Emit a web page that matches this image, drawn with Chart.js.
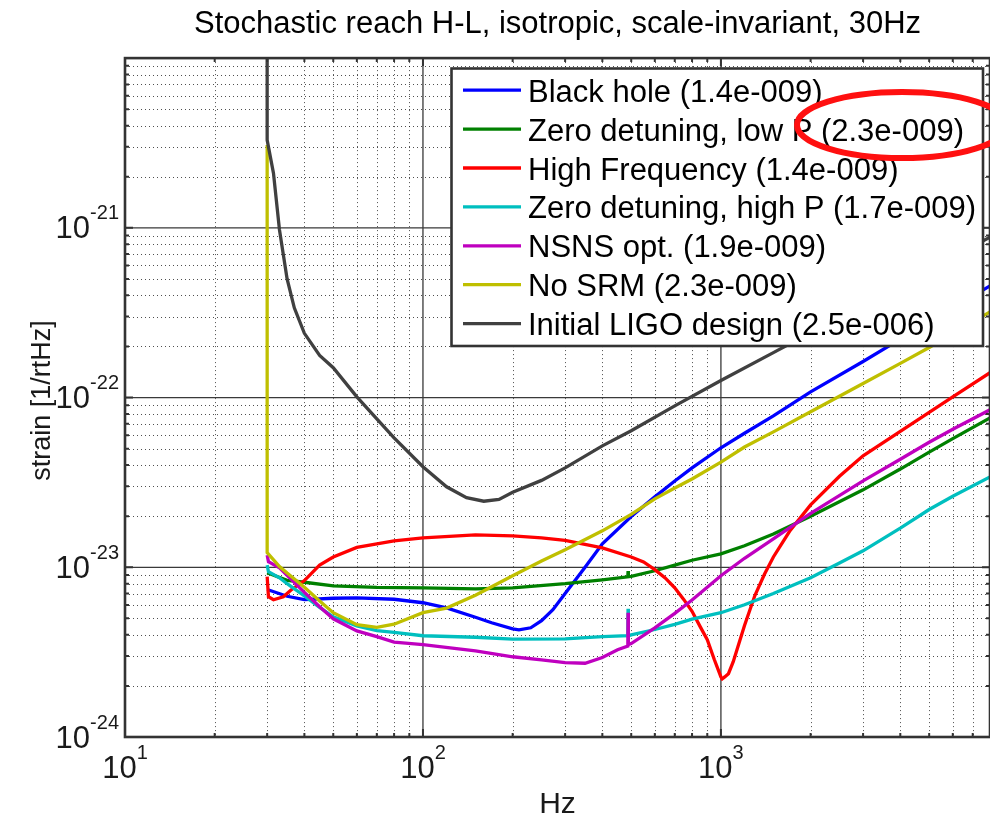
<!DOCTYPE html>
<html>
<head>
<meta charset="utf-8">
<title>Stochastic reach H-L</title>
<script src="https://cdn.jsdelivr.net/npm/chart.js@4.4.1/dist/chart.umd.min.js"></script>
<style>
  html, body { margin: 0; padding: 0; background: #fff; }
  canvas { display: block; }
</style>
</head>
<body>
<canvas id="reachChart" width="990" height="815"></canvas>
<script>
// axis ranges and tick labels (powers of ten)
const xRange = [10, 8000];
const yRange = [1e-24, 1e-20];
const xTickExps = [1, 2, 3];
const yTickExps = [-24, -23, -22, -21];

const seriesLabels = [
    'Black hole (1.4e-009)',
    'Zero detuning, low P (2.3e-009)',
    'High Frequency (1.4e-009)',
    'Zero detuning, high P (1.7e-009)',
    'NSNS opt. (1.9e-009)',
    'No SRM (2.3e-009)',
    'Initial LIGO design (2.5e-006)'
];
const seriesColors = ['#0000ff', '#008000', '#ff0000', '#00bfbf', '#bf00bf', '#bfbf00', '#404040'];

// values: frequency [Hz] and strain [1/rtHz]
const blackHoleHz = [30, 35, 40, 50, 60, 80, 100, 120, 150, 170, 200, 210, 230, 250, 273, 300, 350, 400, 500, 600, 700, 800, 1000, 1200, 1500, 2000, 3000, 4000, 5000, 8000];
const blackHoleStrain = [7.4e-24, 6.75e-24, 6.44e-24, 6.57e-24, 6.6e-24, 6.48e-24, 6.18e-24, 5.77e-24, 5.08e-24, 4.71e-24, 4.34e-24, 4.28e-24, 4.40e-24, 4.85e-24, 5.62e-24, 7.0e-24, 1.0e-23, 1.375e-23, 1.99e-23, 2.60e-23, 3.22e-23, 3.85e-23, 5.06e-23, 6.16e-23, 7.8e-23, 1.08e-22, 1.63e-22, 2.21e-22, 2.79e-22, 4.55e-22];

const lowPHz = [30, 35, 40, 50, 70, 100, 150, 200, 300, 400, 487, 488, 489, 500, 600, 700, 800, 1000, 1200, 1500, 2000, 3000, 4000, 5000, 6000, 8000];
const lowPStrain = [9.28e-24, 8.38e-24, 8.16e-24, 7.78e-24, 7.62e-24, 7.57e-24, 7.47e-24, 7.57e-24, 8.0e-24, 8.44e-24, 8.78e-24, 9.5e-24, 8.8e-24, 8.85e-24, 9.54e-24, 1.03e-23, 1.10e-23, 1.20e-23, 1.34e-23, 1.57e-23, 2.0e-23, 2.86e-23, 3.79e-23, 4.77e-23, 5.73e-23, 7.59e-23];

const highFreqHz = [30, 30.3, 31.5, 34, 36, 40, 45, 50, 60, 80, 100, 150, 200, 250, 300, 400, 500, 550, 600, 650, 700, 750, 800, 850, 900, 950, 1000, 1010, 1030, 1060, 1100, 1200, 1300, 1400, 1500, 1700, 2000, 2500, 3000, 4000, 5000, 6000, 8000];
const highFreqStrain = [8.8e-24, 6.7e-24, 6.44e-24, 6.7e-24, 7.33e-24, 8.35e-24, 1.03e-23, 1.15e-23, 1.31e-23, 1.43e-23, 1.49e-23, 1.55e-23, 1.53e-23, 1.49e-23, 1.44e-23, 1.30e-23, 1.15e-23, 1.075e-23, 9.69e-24, 8.65e-24, 7.57e-24, 6.47e-24, 5.5e-24, 4.5e-24, 3.74e-24, 2.86e-24, 2.26e-24, 2.20e-24, 2.26e-24, 2.36e-24, 2.78e-24, 4.54e-24, 6.82e-24, 9.09e-24, 1.15e-23, 1.63e-23, 2.33e-23, 3.44e-23, 4.54e-23, 6.32e-23, 8.17e-23, 1.01e-22, 1.40e-22];

const highPHz = [30, 30.3, 33, 35, 40, 45, 50, 60, 70, 80, 100, 150, 200, 300, 400, 487, 488, 489, 500, 600, 700, 800, 1000, 1200, 1500, 2000, 2500, 3000, 4000, 5000, 6000, 8000];
const highPStrain = [1.03e-23, 9.41e-24, 8.67e-24, 8.0e-24, 6.79e-24, 5.81e-24, 5.11e-24, 4.52e-24, 4.23e-24, 4.14e-24, 3.95e-24, 3.87e-24, 3.77e-24, 3.79e-24, 3.90e-24, 3.95e-24, 5.70e-24, 3.95e-24, 4.0e-24, 4.30e-24, 4.61e-24, 4.95e-24, 5.40e-24, 6.01e-24, 7.0e-24, 8.68e-24, 1.06e-23, 1.25e-23, 1.70e-23, 2.19e-23, 2.62e-23, 3.41e-23];

const nsnsHz = [30, 30.3, 33, 35, 40, 45, 50, 60, 70, 80, 100, 150, 200, 250, 300, 350, 400, 450, 487, 488, 489, 500, 600, 700, 800, 1000, 1200, 1500, 2000, 3000, 4000, 5000, 6000, 8000];
const nsnsStrain = [1.18e-23, 1.08e-23, 9.93e-24, 8.95e-24, 7.11e-24, 5.85e-24, 4.97e-24, 4.22e-24, 3.90e-24, 3.62e-24, 3.50e-24, 3.22e-24, 2.97e-24, 2.85e-24, 2.74e-24, 2.72e-24, 2.94e-24, 3.27e-24, 3.43e-24, 5.40e-24, 3.50e-24, 3.55e-24, 4.40e-24, 5.35e-24, 6.41e-24, 8.92e-24, 1.13e-23, 1.47e-23, 2.08e-23, 3.23e-23, 4.33e-23, 5.45e-23, 6.50e-23, 8.47e-23];

const noSrmHz = [30, 30, 33, 35, 40, 45, 50, 60, 70, 80, 100, 120, 150, 200, 250, 300, 400, 500, 600, 700, 800, 1000, 1200, 1500, 2000, 3000, 4000, 5000, 8000];
const noSrmStrain = [3.08e-21, 1.22e-23, 1.01e-23, 9.24e-24, 7.62e-24, 6.33e-24, 5.40e-24, 4.59e-24, 4.43e-24, 4.62e-24, 5.40e-24, 5.75e-24, 6.84e-24, 8.91e-24, 1.09e-23, 1.27e-23, 1.64e-23, 2.05e-23, 2.53e-23, 2.93e-23, 3.31e-23, 4.16e-23, 5.11e-23, 6.28e-23, 8.24e-23, 1.21e-22, 1.59e-22, 1.97e-22, 3.20e-22];

const initialLigoHz = [30, 30, 31.5, 33, 35, 37, 40, 45, 50, 60, 70, 80, 100, 120, 140, 160, 180, 200, 250, 300, 400, 500, 700, 1000, 1500, 2000, 4000, 8000];
const initialLigoStrain = [1e-19, 3.29e-21, 2.1e-21, 9.72e-22, 5.0e-22, 3.38e-22, 2.39e-22, 1.77e-22, 1.50e-22, 1.01e-22, 7.49e-23, 5.79e-23, 3.91e-23, 2.98e-23, 2.57e-23, 2.45e-23, 2.51e-23, 2.77e-23, 3.25e-23, 3.85e-23, 5.19e-23, 6.37e-23, 8.93e-23, 1.26e-22, 1.84e-22, 2.41e-22, 4.6e-22, 8.8e-22];

const seriesHz = [blackHoleHz, lowPHz, highFreqHz, highPHz, nsnsHz, noSrmHz, initialLigoHz];
const seriesStrain = [blackHoleStrain, lowPStrain, highFreqStrain, highPStrain, nsnsStrain, noSrmStrain, initialLigoStrain];

const FONT = '"Liberation Sans", Arial, sans-serif';
const AXIS_COLOR = '#333333';

// k * 10^n positions strictly inside (lo, hi)
function minorValues(lo, hi) {
    const out = [];
    for (let e = Math.floor(Math.log10(lo)); e <= Math.ceil(Math.log10(hi)); e++) {
        for (let k = 2; k <= 9; k++) {
            const v = k * Math.pow(10, e);
            if (v > lo * 1.0001 && v < hi * 0.9999) out.push(v);
        }
    }
    return out;
}
function decadeValues(lo, hi) {
    const out = [];
    for (let e = Math.ceil(Math.log10(lo) - 1e-9); e <= Math.floor(Math.log10(hi) + 1e-9); e++) out.push(Math.pow(10, e));
    return out;
}

function drawPower(ctx, exp, x, baseline, align) {
    ctx.font = '31px ' + FONT;
    const wb = ctx.measureText('10').width;
    ctx.font = '20px ' + FONT;
    const ws = ctx.measureText(String(exp)).width;
    const left = align === 'right' ? x - wb - ws : x - (wb + ws) / 2;
    ctx.textAlign = 'left';
    ctx.textBaseline = 'alphabetic';
    ctx.font = '31px ' + FONT;
    ctx.fillText('10', left, baseline);
    ctx.font = '20px ' + FONT;
    ctx.fillText(String(exp), left + wb, baseline - 19);
}

const matlabAxes = {
    id: 'matlabAxes',
    beforeDatasetsDraw(chart) {
        const { ctx, chartArea: a, scales: { x, y } } = chart;
        ctx.save();
        // dotted minor grid
        ctx.lineWidth = 1;
        ctx.strokeStyle = 'rgba(20,20,20,0.75)';
        ctx.setLineDash([1, 3]);
        ctx.beginPath();
        minorValues(xRange[0], xRange[1]).forEach(v => {
            const px = Math.round(x.getPixelForValue(v)) + 0.5;
            ctx.moveTo(px, a.top); ctx.lineTo(px, a.bottom);
        });
        minorValues(yRange[0], yRange[1]).forEach(v => {
            const py = Math.round(y.getPixelForValue(v)) + 0.5;
            ctx.moveTo(a.left, py); ctx.lineTo(a.right, py);
        });
        ctx.stroke();
        // solid major grid
        ctx.setLineDash([]);
        ctx.strokeStyle = '#3a3a3a';
        ctx.lineWidth = 1.3;
        ctx.beginPath();
        decadeValues(xRange[0], xRange[1]).forEach(v => {
            const px = x.getPixelForValue(v);
            ctx.moveTo(px, a.top); ctx.lineTo(px, a.bottom);
        });
        decadeValues(yRange[0], yRange[1]).forEach(v => {
            const py = y.getPixelForValue(v);
            ctx.moveTo(a.left, py); ctx.lineTo(a.right, py);
        });
        ctx.stroke();
        ctx.restore();
    },
    afterDatasetsDraw(chart) {
        const { ctx, chartArea: a, scales: { x, y } } = chart;
        ctx.save();
        // inward ticks on all four sides
        ctx.strokeStyle = AXIS_COLOR;
        ctx.lineWidth = 2;
        ctx.beginPath();
        const tickX = (v, len) => {
            const px = x.getPixelForValue(v);
            ctx.moveTo(px, a.bottom); ctx.lineTo(px, a.bottom - len);
            ctx.moveTo(px, a.top); ctx.lineTo(px, a.top + len);
        };
        const tickY = (v, len) => {
            const py = y.getPixelForValue(v);
            ctx.moveTo(a.left, py); ctx.lineTo(a.left + len, py);
            ctx.moveTo(a.right, py); ctx.lineTo(a.right - len, py);
        };
        minorValues(xRange[0], xRange[1]).forEach(v => tickX(v, 4));
        decadeValues(xRange[0], xRange[1]).forEach(v => tickX(v, 8));
        minorValues(yRange[0], yRange[1]).forEach(v => tickY(v, 4));
        decadeValues(yRange[0], yRange[1]).forEach(v => tickY(v, 8));
        ctx.stroke();
        // axes box
        ctx.lineWidth = 2.6;
        ctx.strokeRect(a.left, a.top, a.right - a.left, a.bottom - a.top);

        // legend box
        const lg = { left: 451.5, top: 68.5, right: 983, bottom: 346 };
        ctx.fillStyle = '#ffffff';
        ctx.fillRect(lg.left, lg.top, lg.right - lg.left, lg.bottom - lg.top);
        ctx.lineWidth = 2.6;
        ctx.strokeStyle = AXIS_COLOR;
        ctx.strokeRect(lg.left, lg.top, lg.right - lg.left, lg.bottom - lg.top);
        ctx.font = '31px ' + FONT;
        ctx.textAlign = 'left';
        ctx.textBaseline = 'alphabetic';
        chart.data.datasets.forEach((ds, i) => {
            const rowY = 90.2 + i * 38.9;
            ctx.strokeStyle = ds.borderColor;
            ctx.lineWidth = 3.3;
            ctx.beginPath();
            ctx.moveTo(463, rowY); ctx.lineTo(521, rowY);
            ctx.stroke();
            ctx.fillStyle = '#000';
            ctx.fillText(ds.label, 528, rowY + 11.5);
        });

        // tick labels
        ctx.fillStyle = '#1a1a1a';
        xTickExps.forEach(e => drawPower(ctx, e, x.getPixelForValue(Math.pow(10, e)), 778, 'center'));
        yTickExps.forEach(e => drawPower(ctx, e, 119, y.getPixelForValue(Math.pow(10, e)) + 10.5, 'right'));

        // axis titles
        ctx.textAlign = 'center';
        ctx.font = '30px ' + FONT;
        ctx.fillText('Hz', (a.left + a.right) / 2, 813);
        ctx.save();
        ctx.translate(50, (a.top + a.bottom) / 2 + 3);
        ctx.rotate(-Math.PI / 2);
        ctx.font = '27px ' + FONT;
        ctx.fillText('strain [1/rtHz]', 0, 0);
        ctx.restore();

        // red highlight ellipse around the legend value (runs off the right edge)
        ctx.strokeStyle = '#ff1010';
        ctx.lineWidth = 6;
        ctx.beginPath();
        ctx.ellipse(902, 125, 105, 33, 0, 0, Math.PI * 2);
        ctx.stroke();
        ctx.restore();
    }
};

const datasets = seriesLabels.map((label, i) => ({
    label: label,
    data: seriesHz[i].map((f, j) => ({ x: f, y: seriesStrain[i][j] })),
    borderColor: seriesColors[i],
    backgroundColor: seriesColors[i],
    borderWidth: 3.3,
    pointRadius: 0,
    tension: 0,
    fill: false,
    // later series are painted on top, as in the original plot
    order: seriesLabels.length - 1 - i
}));

Chart.defaults.font.family = FONT;

const ctx = document.getElementById('reachChart').getContext('2d');
new Chart(ctx, {
    type: 'line',
    data: { datasets: datasets },
    options: {
        responsive: false,
        animation: false,
        layout: { padding: { left: 125, right: 0, top: 0, bottom: 78 } },
        scales: {
            x: { type: 'logarithmic', min: xRange[0], max: xRange[1], display: false },
            y: { type: 'logarithmic', min: yRange[0], max: yRange[1], display: false }
        },
        plugins: {
            legend: { display: false },
            tooltip: { enabled: false },
            title: {
                display: true,
                text: 'Stochastic reach H-L, isotropic, scale-invariant, 30Hz',
                color: '#000',
                font: { size: 31, weight: 'normal' },
                padding: { top: 5.7, bottom: 15.2 }
            }
        }
    },
    plugins: [matlabAxes]
});
</script>
</body>
</html>
